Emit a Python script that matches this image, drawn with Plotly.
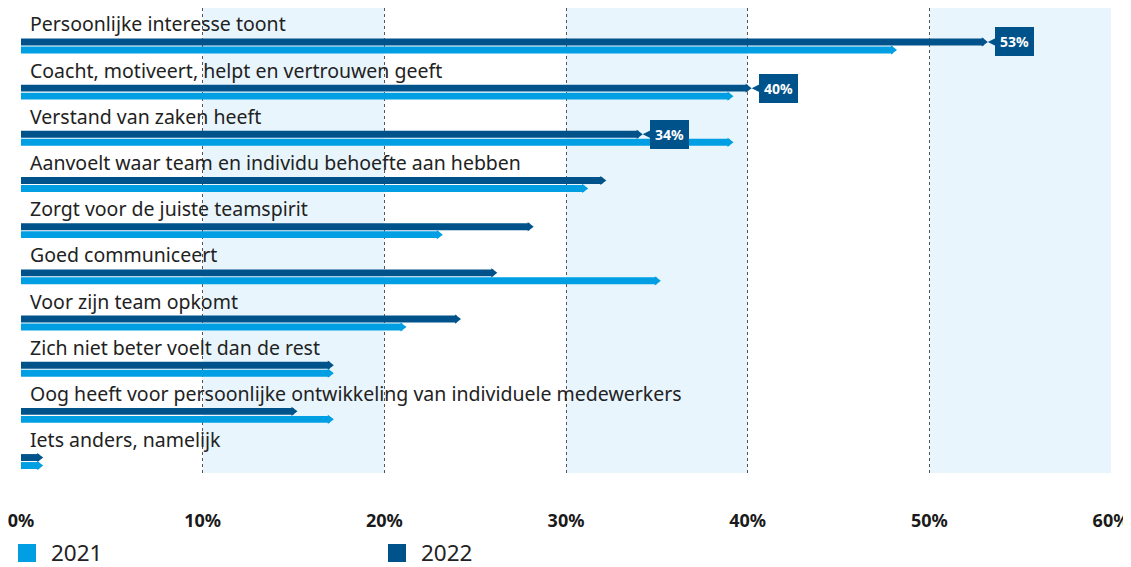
import plotly.graph_objects as go

categories = [
    "Persoonlijke interesse toont",
    "Coacht, motiveert, helpt en vertrouwen geeft",
    "Verstand van zaken heeft",
    "Aanvoelt waar team en individu behoefte aan hebben",
    "Zorgt voor de juiste teamspirit",
    "Goed communiceert",
    "Voor zijn team opkomt",
    "Zich niet beter voelt dan de rest",
    "Oog heeft voor persoonlijke ontwikkeling van individuele medewerkers",
    "Iets anders, namelijk",
]
values_2021 = [48, 39, 39, 31, 23, 35, 21, 17, 17, 1]
values_2022 = [53, 40, 34, 32, 28, 26, 24, 17, 15, 1]
labelled_2022 = [0, 1, 2]  # rows that get a value callout
tick_values = [0, 10, 20, 30, 40, 50, 60]
tick_labels = ["0%", "10%", "20%", "30%", "40%", "50%", "60%"]
series_names = ["2021", "2022"]

LIGHT = "#009fe3"
DARK = "#00538a"
BAND = "#e8f5fd"
FONT = "Noto Sans"

rows = list(range(len(categories)))
y_dark = rows
y_light = [r + 0.173 for r in rows]
bar_w = 0.15

fig = go.Figure()

for vals, ys, color in [(values_2022, y_dark, DARK), (values_2021, y_light, LIGHT)]:
    fig.add_trace(go.Bar(
        x=vals, y=ys, orientation="h", width=bar_w, marker=dict(color=color, line=dict(width=0)),
        showlegend=False, hoverinfo="x",
    ))
    # pointed tips at the bar ends
    fig.add_trace(go.Scatter(
        x=vals, y=ys, mode="markers", showlegend=False, hoverinfo="skip",
        marker=dict(symbol="triangle-right", size=8, color=color, line=dict(width=0)),
    ))

# shaded bands
for x0 in [10, 30, 50]:
    fig.add_shape(type="rect", xref="x", yref="paper", x0=x0, x1=x0 + 10, y0=0, y1=1,
                  fillcolor=BAND, line=dict(width=0), layer="below")

# category labels
for r, cat in zip(rows, categories):
    fig.add_annotation(x=0, y=r - 0.39, text=cat, showarrow=False, xanchor="left", yanchor="middle",
                       xshift=7, font=dict(family=FONT, size=19.5, color="#222222"))

# value callouts
for r in labelled_2022:
    v = values_2022[r]
    fig.add_annotation(x=v, y=y_dark[r], text=f"<b>{v}%</b>", showarrow=True, ax=31, ay=0,
                       arrowhead=2, arrowsize=1.2, arrowwidth=2, arrowcolor=DARK, standoff=4,
                       bgcolor=DARK, bordercolor=DARK, borderpad=4,
                       font=dict(family=FONT, size=14, color="white"))

# legend (drawn by hand so the swatches can be large)
for k, (name, color) in enumerate(zip(series_names, [LIGHT, DARK])):
    off = k * 370
    fig.add_shape(type="rect", xref="paper", yref="paper", xsizemode="pixel", ysizemode="pixel",
                  xanchor=0, yanchor=0, x0=off - 3, x1=off + 15, y0=-89, y1=-71,
                  fillcolor=color, line=dict(width=0))
    fig.add_annotation(x=0, y=0, xref="paper", yref="paper", text=name, showarrow=False,
                       xanchor="left", yanchor="middle", xshift=off + 28, yshift=-79,
                       font=dict(family=FONT, size=22.5, color="#222222"))

fig.update_layout(
    width=1123, height=559,
    margin=dict(l=13, r=20, t=0, b=94),
    plot_bgcolor="white", paper_bgcolor="white",
    barmode="overlay",
    showlegend=False,
    font=dict(family=FONT, color="#222222"),
    xaxis=dict(
        range=[0, 60], tickvals=tick_values, ticktext=tick_labels,
        showgrid=True, gridcolor="#555555", griddash="dot", gridwidth=1,
        zeroline=False, showline=False, ticks="",
        tickfont=dict(family=FONT, size=18, color="#1a1a1a", weight="bold"),
        ticklabelstandoff=35, ticklabeloverflow="allow",
    ),
    yaxis=dict(range=[9.335, -0.736], visible=False),
)

fig.write_html("out.html")
